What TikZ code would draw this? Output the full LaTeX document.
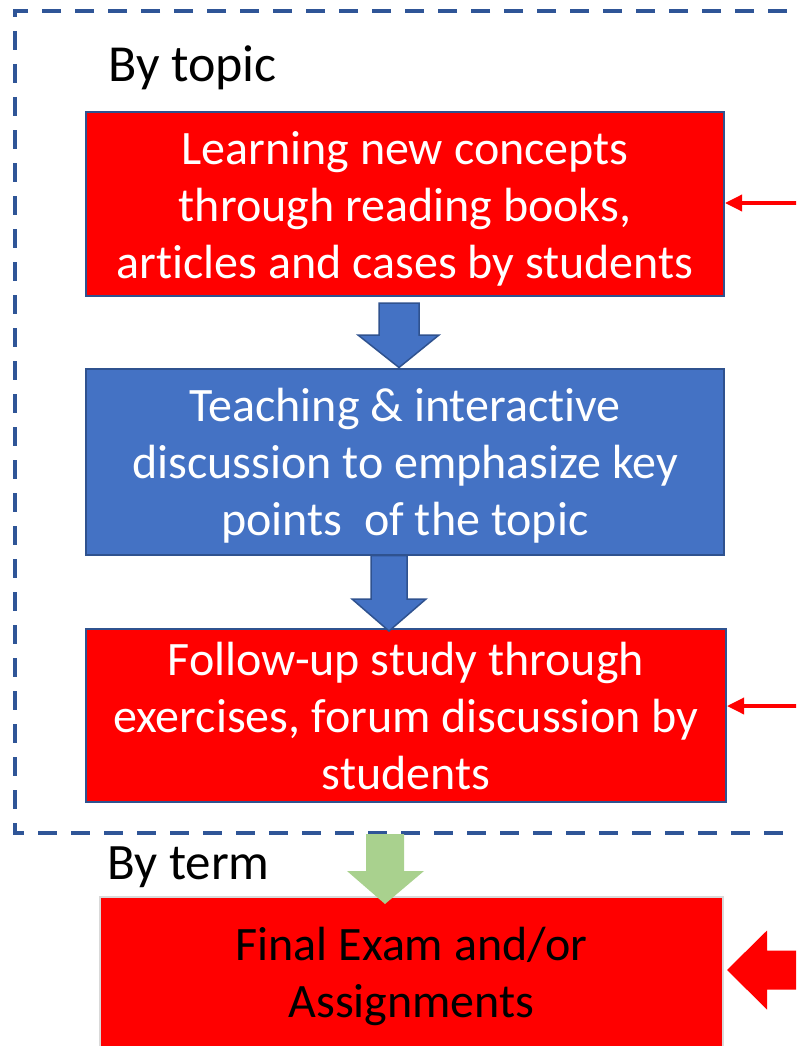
\documentclass[tikz,border=0pt]{standalone}
\usepackage{fontspec}
\setmainfont{Carlito}[Ligatures=NoCommon]
\usetikzlibrary{calc,arrows.meta}
\definecolor{boxred}{HTML}{FF0000}
\definecolor{boxblue}{HTML}{4472C4}
\definecolor{edgeblue}{HTML}{2F528F}
\definecolor{dashblue}{HTML}{2F5597}
\definecolor{arrgreen}{HTML}{A9D18E}
\definecolor{edgegray}{HTML}{D9D9D9}
\tikzset{
  stepbox/.style={draw=edgeblue, line width=2pt, inner sep=0pt},
  redbox/.style={stepbox, fill=boxred},
  bluebox/.style={stepbox, fill=boxblue},
  finalbox/.style={draw=edgegray, line width=2pt, fill=boxred, inner sep=0pt},
  boxtext/.style={inner sep=0pt, align=center, text=white, font=\fontsize{48}{57}\selectfont},
  finaltext/.style={boxtext, text=black},
  bluearrow/.style={fill=boxblue, draw=edgeblue, line width=1.5pt, line join=miter},
  greenarrow/.style={fill=arrgreen, draw=none},
  redarrow/.style={fill=boxred, draw=none},
  thinarrow/.style={draw=boxred, line width=3.5pt, -{Triangle[length=17pt,width=16pt]}},
  framebox/.style={draw=dashblue, line width=4pt, dash pattern=on 19pt off 14pt},
  heading/.style={anchor=base west, inner sep=0pt, text=black},
}
\begin{document}
\begin{tikzpicture}[x=1pt,y=-1pt]
\useasboundingbox (0,0) rectangle (796,1046);
\clip (0,0) rectangle (796,1046);
% dashed frame
\draw[framebox] (820,11) -- (15,11) -- (15,833) -- (820,833);
% headings
\node[heading, font=\fontsize{52}{60}\selectfont] (h1) at (108,82) {By topic};
\node[heading, font=\fontsize{51}{57}\selectfont] (h2) at (107,879) {By term};
% boxes
\node[redbox, minimum width=638pt, minimum height=184pt] (b1) at (405,204) {};
\node[boxtext] (t1) at ($(b1.center)+(0,5)$)
  {Learning new concepts\\through reading books,\\articles and cases by students};
\node[bluebox, minimum width=638pt, minimum height=186pt] (b2) at (405,461.5) {};
\node[boxtext] (t2) at ($(b2.center)+(0,4)$)
  {Teaching \& interactive\\discussion to emphasize key\\points\ \ of the topic};
\node[redbox, minimum width=640pt, minimum height=173pt] (b3) at (406,715.5) {};
\node[boxtext] (t3) at ($(b3.center)+(0,1)$)
  {Follow-up study through\\exercises, forum discussion by\\students};
\node[finalbox, minimum width=623pt, minimum height=163pt] (b4) at (411.5,978.5) {};
\node[finaltext] (t4) at ($(b4.center)+(0,-2)$) {Final Exam and/or\\Assignments};
% block arrows
\draw[bluearrow] ($(b1.south)+(-26,6)$) -- ($(b1.south)+(14,6)$) -- ($(b1.south)+(14,38)$)
  -- ($(b1.south)+(34,38)$) -- ($(b2.north)+(-6,0)$) -- ($(b1.south)+(-47,38)$)
  -- ($(b1.south)+(-26,38)$) -- cycle;
\draw[bluearrow] ($(b2.south)+(-34,0)$) -- ($(b2.south)+(2,0)$) -- ($(b2.south)+(2,43.5)$)
  -- ($(b2.south)+(21,43.5)$) -- ($(b3.north)+(-17,3)$) -- ($(b2.south)+(-53,43.5)$)
  -- ($(b2.south)+(-34,43.5)$) -- cycle;
\fill[greenarrow] ($(b3.south)+(-40,31)$) -- ($(b3.south)+(-2,31)$) -- ($(b3.south)+(-2,68)$)
  -- ($(b3.south)+(18,68)$) -- ($(b4.north)+(-26.5,8)$) -- ($(b3.south)+(-59,68)$)
  -- ($(b3.south)+(-40,68)$) -- cycle;
% thin arrows from the right
\coordinate (r1) at (800,203);
\coordinate (r2) at (800,706);
\draw[thinarrow] (r1) -- (r1 -| b1.east);
\draw[thinarrow] (r2) -- (r2 -| b3.east);
% big red arrow from the right
\coordinate (r3) at (800,970);
\coordinate (p3) at ($(r3 -| b4.east)+(3,0)$);
\fill[redarrow] ($(r3)+(0,-19.5)$) -- ($(p3)+(40,-19.5)$) -- ($(p3)+(40,-39.5)$) -- (p3)
  -- ($(p3)+(40,39.5)$) -- ($(p3)+(40,19.5)$) -- ($(r3)+(0,19.5)$) -- cycle;
\end{tikzpicture}
\end{document}
